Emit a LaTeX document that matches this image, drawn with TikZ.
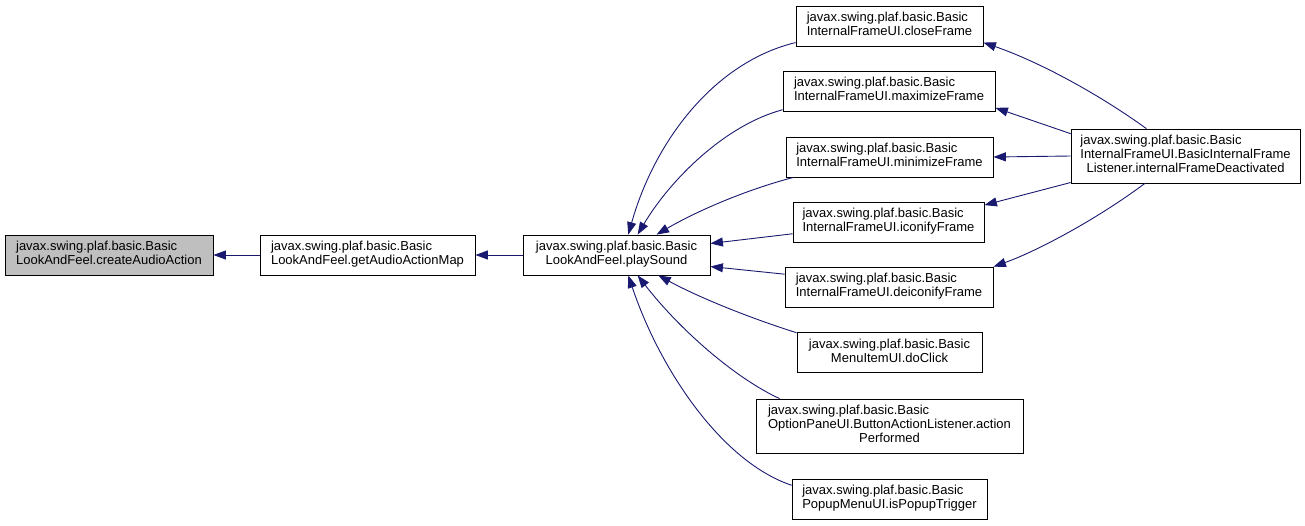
\documentclass[tikz,border=0pt]{standalone}
\usepackage{fontspec}
\setmainfont{Liberation Sans}
\usepackage{xcolor}
\usepackage{tikz}
\usetikzlibrary{arrows.meta,positioning}
\definecolor{edgeblue}{RGB}{25, 25, 112}
\definecolor{startgray}{RGB}{191, 191, 191}
\newcommand{\fnlabel}[2]{\begin{tabular}{@{}l@{}}#1\\\multicolumn{1}{@{}c@{}}{#2}\end{tabular}}
\newcommand{\fnlabelthree}[3]{\begin{tabular}{@{}l@{}}#1\\#2\\\multicolumn{1}{@{}c@{}}{#3}\end{tabular}}

\begin{document}
\begin{tikzpicture}[x=1pt, y=-1pt, >={Triangle[length=12.5pt, width=9pt]},
    fn/.style={draw=black, line width=0.8pt, fill=white, inner sep=0pt, minimum height=40pt, font=\fontsize{13}{14}\selectfont},
    edge/.style={->, draw=edgeblue, line width=0.9pt}]
        \useasboundingbox (0, 0) rectangle (1305, 525);
        
        % Left chain
        \node[fn, fill=startgray, minimum width=208pt] (create) at (109, 255) {\fnlabel{javax.swing.plaf.basic.Basic}{LookAndFeel.createAudioAction}};
        \node[fn, minimum width=215pt] (getmap) at (367.5, 255) {\fnlabel{javax.swing.plaf.basic.Basic}{LookAndFeel.getAudioActionMap}};
        \node[fn, minimum width=187pt] (play) at (616.5, 255) {\fnlabel{javax.swing.plaf.basic.Basic}{LookAndFeel.playSound}};
        
        % Callers of playSound
        \node[fn, minimum width=187pt] (close) at (889.5, 26) {\fnlabel{javax.swing.plaf.basic.Basic}{InternalFrameUI.closeFrame}};
        \node[fn, minimum width=212pt] (maxi) at (889, 91) {\fnlabel{javax.swing.plaf.basic.Basic}{InternalFrameUI.maximizeFrame}};
        \node[fn, minimum width=207pt] (mini) at (889.5, 157) {\fnlabel{javax.swing.plaf.basic.Basic}{InternalFrameUI.minimizeFrame}};
        \node[fn, minimum width=191pt] (icon) at (888.5, 222) {\fnlabel{javax.swing.plaf.basic.Basic}{InternalFrameUI.iconifyFrame}};
        \node[fn, minimum width=208pt] (deicon) at (889, 287) {\fnlabel{javax.swing.plaf.basic.Basic}{InternalFrameUI.deiconifyFrame}};
        \node[fn, minimum width=185pt] (click) at (889.5, 352.5) {\fnlabel{javax.swing.plaf.basic.Basic}{MenuItemUI.doClick}};
        \node[fn, minimum width=267pt, minimum height=54pt] (action) at (889.5, 426) {\fnlabelthree{javax.swing.plaf.basic.Basic}{OptionPaneUI.ButtonActionListener.action}{Performed}};
        \node[fn, minimum width=195pt] (popup) at (889.5, 499) {\fnlabel{javax.swing.plaf.basic.Basic}{PopupMenuUI.isPopupTrigger}};
        
        % Frame listener
        \node[fn, minimum width=229pt, minimum height=54pt] (listener) at (1185.5, 156) {\fnlabelthree{javax.swing.plaf.basic.Basic}{InternalFrameUI.BasicInternalFrame}{Listener.internalFrameDeactivated}};
        
        % Edges of the chain
        \draw[edge] (getmap) -- (create);
        \draw[edge] (play) -- (getmap);
        
        % Edges into playSound
        \draw[edge] (close.190) .. controls (715, 62) and (655, 140) .. (play.60);
        \draw[edge] (maxi.190) .. controls (725, 125) and (670, 180) .. (play.44);
        \draw[edge] (mini.192) .. controls (745, 190) and (695, 212) .. (play.27);
        \draw[edge] (icon.187) -- (play.7);
        \draw[edge] (deicon.173) -- (play.-7);
        \draw[edge] (click.168) .. controls (750, 318) and (700, 298) .. (play.-26);
        \draw[edge] (action.166) .. controls (735, 378) and (680, 330) .. (play.-44);
        \draw[edge] (popup.172) .. controls (722, 462) and (660, 370) .. (play.-60);
        
        % Edges from the listener
        \draw[edge] (listener.145) .. controls (1100, 95) and (1040, 62) .. (close.-10);
        \draw[edge] (listener.169) -- (maxi.-9);
        \draw[edge] (listener.west) -- (mini.east);
        \draw[edge] (listener.193) -- (icon.10);
        \draw[edge] (listener.214) .. controls (1100, 217) and (1040, 250) .. (deicon.11);
    \end{tikzpicture}
\end{document}
